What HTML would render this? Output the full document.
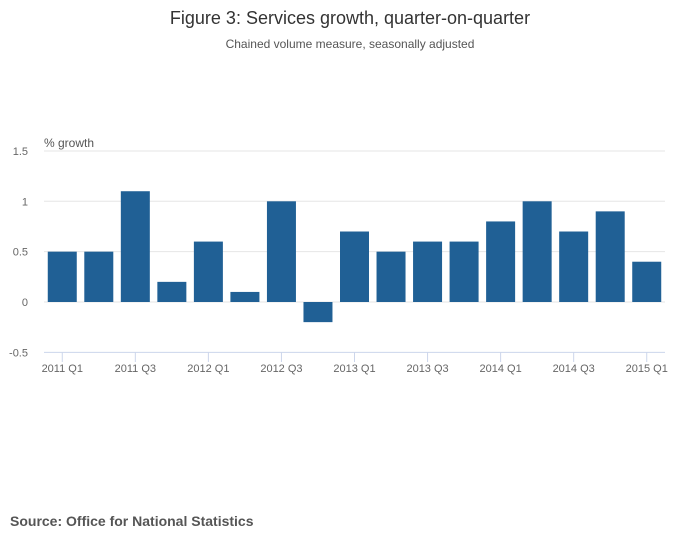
<!DOCTYPE html>
<html><head><meta charset="utf-8"><style>
body{margin:0;background:#fff;font-family:"Liberation Sans",sans-serif;}
</style></head><body>
<svg width="700" height="549" viewBox="0 0 700 549" xmlns="http://www.w3.org/2000/svg" font-family="Liberation Sans, sans-serif">
<rect width="700" height="549" fill="#fff"/>
<text x="350" y="24" text-anchor="middle" font-size="18" fill="#333">Figure 3: Services growth, quarter-on-quarter</text>
<text x="350" y="48" text-anchor="middle" font-size="12" fill="#555">Chained volume measure, seasonally adjusted</text>
<text x="44" y="147" font-size="12" fill="#555">% growth</text>
<g id="grid"></g><g id="bars"></g><g id="xaxis"></g>
<text x="10" y="526" font-size="14" font-weight="bold" fill="#555">Source: Office for National Statistics</text>
</svg>
<script>
const categories=["2011 Q1","2011 Q2","2011 Q3","2011 Q4","2012 Q1","2012 Q2","2012 Q3","2012 Q4","2013 Q1","2013 Q2","2013 Q3","2013 Q4","2014 Q1","2014 Q2","2014 Q3","2014 Q4","2015 Q1"];
const values=[0.5,0.5,1.1,0.2,0.6,0.1,1.0,-0.2,0.7,0.5,0.6,0.6,0.8,1.0,0.7,0.9,0.4];
const yTicks=[-0.5,0,0.5,1,1.5];
const yTickLabels=["-0.5","0","0.5","1","1.5"];
const ns="http://www.w3.org/2000/svg";
const x0=44,x1=665,step=(x1-x0)/categories.length,bw=29;
function y(v){return 302-v*100.7;}
function xc(i){return x0+step*(i+0.5);}
const grid=document.getElementById('grid'),bars=document.getElementById('bars'),xa=document.getElementById('xaxis');
yTicks.forEach((t,i)=>{
 const l=document.createElementNS(ns,'line');
 l.setAttribute('x1',x0);l.setAttribute('x2',x1);l.setAttribute('y1',y(t));l.setAttribute('y2',y(t));
 l.setAttribute('stroke',t===-0.5?'#ccd6eb':'#e6e6e6');
 
 
 grid.appendChild(l);
 const tx=document.createElementNS(ns,'text');
 tx.setAttribute('x',28);tx.setAttribute('y',y(t)+4);tx.setAttribute('text-anchor','end');
 tx.setAttribute('font-size','11');tx.setAttribute('fill','#666');tx.textContent=yTickLabels[i];
 
 
 grid.appendChild(tx);
});
values.forEach((v,i)=>{
 const r=document.createElementNS(ns,'rect');
 r.setAttribute('x',xc(i)-bw/2);r.setAttribute('width',bw);
 r.setAttribute('y',Math.min(y(v),y(0)));r.setAttribute('height',Math.abs(y(v)-y(0)));
 r.setAttribute('fill','#206095');
 
 
 bars.appendChild(r);
 if(i%2===0){
  const tk=document.createElementNS(ns,'line');
  tk.setAttribute('x1',xc(i));tk.setAttribute('x2',xc(i));tk.setAttribute('y1',352);tk.setAttribute('y2',362);
  tk.setAttribute('stroke','#ccd6eb');
  
  
  xa.appendChild(tk);
  const tx=document.createElementNS(ns,'text');
  tx.setAttribute('x',xc(i));tx.setAttribute('y',372);tx.setAttribute('text-anchor','middle');
  tx.setAttribute('font-size','11');tx.setAttribute('fill','#666');tx.textContent=categories[i];
  
  
  xa.appendChild(tx);
 }
});
</script>
</body></html>
